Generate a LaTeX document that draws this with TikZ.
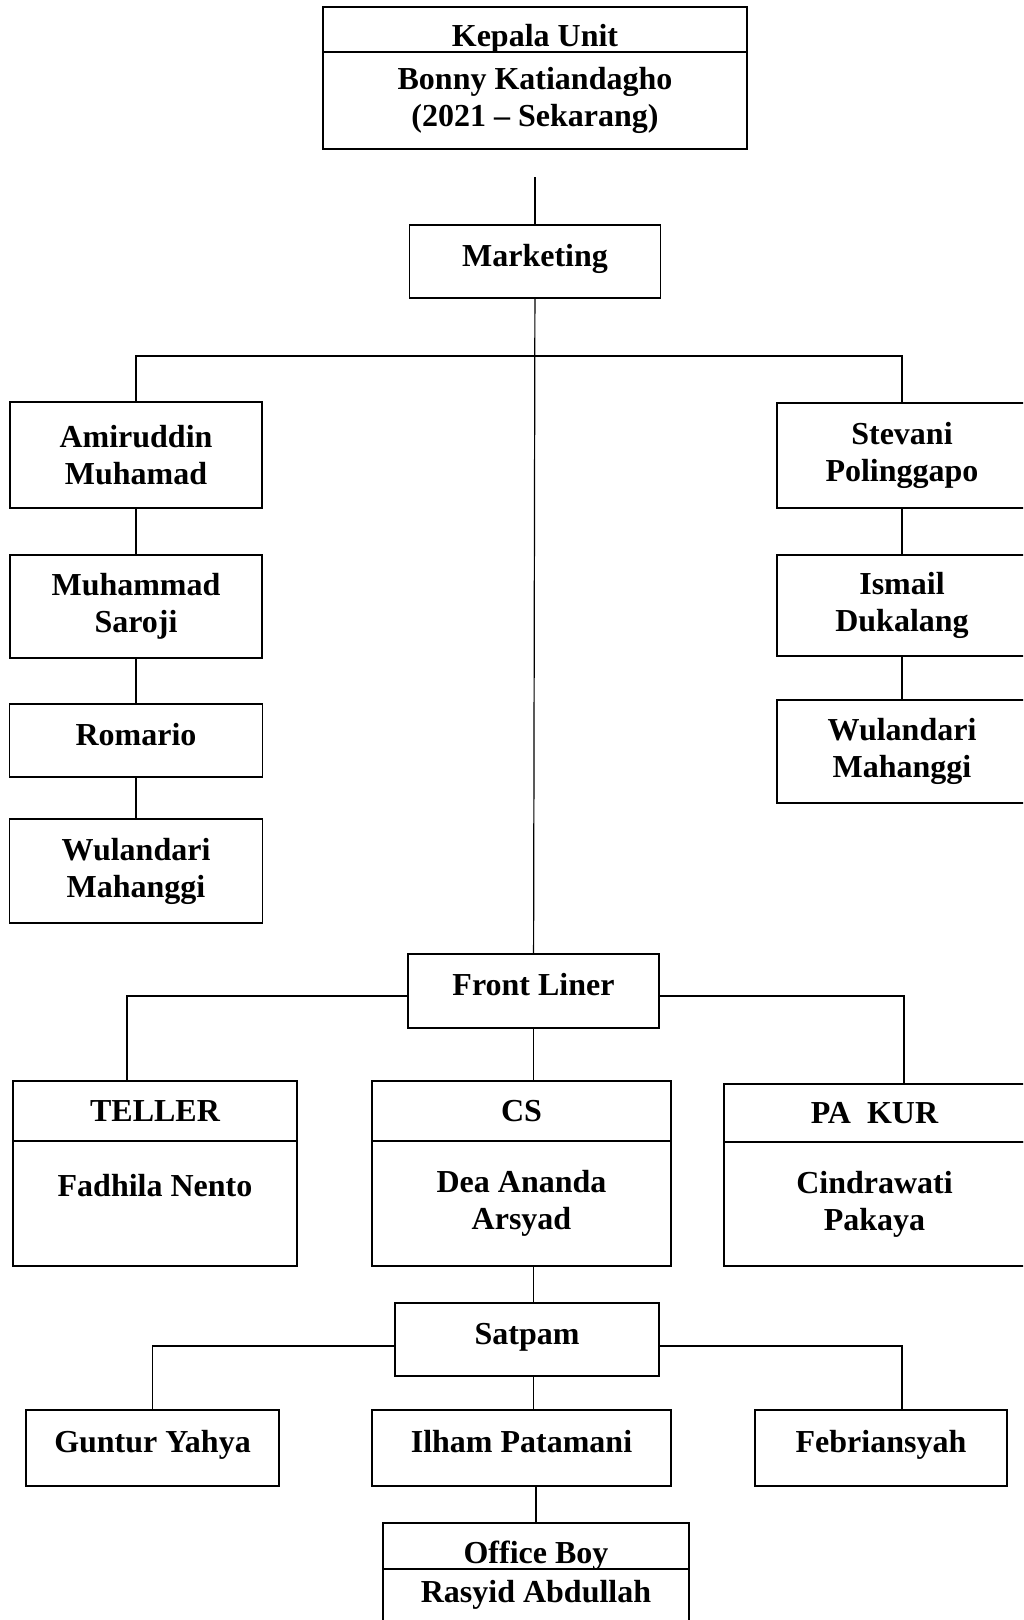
\documentclass[tikz,border=0pt]{standalone}
\usepackage{fontspec}
\setmainfont{Liberation Serif}
\usetikzlibrary{positioning}
\tikzstyle{box} = [draw, rectangle, line width=1.2pt, outer sep=0pt, inner sep=2pt, align=center, font=\fontsize{32}{37}\selectfont\bfseries]
\tikzstyle{oneline} = [text height=22pt, text depth=13pt]
\tikzstyle{line} = [draw, line width=1.2pt]

\begin{document}
\begin{tikzpicture}[x=1pt, y=1pt]

        \useasboundingbox (0,0) rectangle (1023,-1620);
        \clip (0,0) rectangle (1023,-1620);

        % kepala unit and marketing
        \node[box, minimum width=424pt, minimum height=45pt, text height=34pt, text depth=0pt] (kepalahead) at (535,-29.5) {Kepala Unit};
        \node[box, minimum width=424pt, minimum height=97pt, below=0pt of kepalahead] (kepalaname) {Bonny Katiandagho\\(2021 -- Sekarang)};
        \coordinate[below=28pt of kepalaname] (kgap);
        \node[box, oneline, minimum width=251pt, minimum height=73pt, below=76pt of kepalaname] (marketing) {Marketing};
        \coordinate[below=58pt of marketing] (mbar);

        % left branch
        \node[box, minimum width=252pt, minimum height=106pt] (amir) at (136,-455) {Amiruddin\\Muhamad};
        \node[box, minimum width=252pt, minimum height=103pt, below=47pt of amir] (saroji) {Muhammad\\Saroji};
        \node[box, oneline, minimum width=253pt, minimum height=73pt, below=46pt of saroji] (romario) {Romario};
        \node[box, minimum width=253pt, minimum height=104pt, below=42pt of romario] (wulanleft) {Wulandari\\Mahanggi};

        % right branch
        \node[box, minimum width=250pt, minimum height=105pt] (stevani) at (902,-455.5) {Stevani\\Polinggapo};
        \node[box, minimum width=250pt, minimum height=101pt, below=47pt of stevani] (ismail) {Ismail\\Dukalang};
        \node[box, minimum width=250pt, minimum height=103pt, below=44pt of ismail] (wulanright) {Wulandari\\Mahanggi};

        % front liner
        \node[box, oneline, minimum width=251pt, minimum height=74pt] (frontliner) at (533.5,-991) {Front Liner};
        \node[box, minimum width=284pt, minimum height=60pt] (tellerhead) at (155,-1111) {TELLER};
        \node[box, minimum width=284pt, minimum height=125pt, below=0pt of tellerhead] (tellername) {Fadhila Nento\\~};
        \node[box, minimum width=299pt, minimum height=60pt] (cshead) at (521.5,-1111) {CS};
        \node[box, minimum width=299pt, minimum height=125pt, below=0pt of cshead] (csname) {Dea Ananda\\Arsyad};
        \node[box, minimum width=301pt, minimum height=58pt] (pakurhead) at (874.5,-1113) {PA\ \ KUR};
        \node[box, minimum width=301pt, minimum height=124pt, below=0pt of pakurhead] (pakurname) {Cindrawati\\Pakaya};

        % satpam and office boy
        \node[box, oneline, minimum width=264pt, minimum height=73pt] (satpam) at (527,-1339.5) {Satpam};
        \node[box, oneline, minimum width=253pt, minimum height=76pt] (guntur) at (152.5,-1448) {Guntur Yahya};
        \node[box, oneline, minimum width=299pt, minimum height=76pt] (ilham) at (521.5,-1448) {Ilham Patamani};
        \node[box, oneline, minimum width=252pt, minimum height=76pt] (febri) at (881,-1448) {Febriansyah};
        \node[box, minimum width=306pt, minimum height=46pt, text height=35pt, text depth=0pt] (officehead) at (536,-1546) {Office Boy};
        \node[box, minimum width=306pt, minimum height=81pt, below=0pt of officehead] (officename) {Rasyid Abdullah\\~};


        \path [line] (kgap) -- (marketing);
        \path [line] (marketing) -- (frontliner);
        \path [line] (amir.north) |- (mbar) -| (stevani.north);
        \path [line] (amir) -- (saroji);
        \path [line] (saroji) -- (romario);
        \path [line] (romario) -- (wulanleft);
        \path [line] (stevani) -- (ismail);
        \path [line] (ismail) -- (wulanright);
        \path [line] ([yshift=-5pt]frontliner.west) -| ([xshift=-28pt]tellerhead.north);
        \path [line] ([yshift=-5pt]frontliner.east) -| ([xshift=29.5pt]pakurhead.north);
        \path [line] (frontliner.south) -- (frontliner.south |- cshead.north);
        \path [line] (csname.south -| frontliner.south) -- (satpam.north -| frontliner.south);
        \path [line] ([yshift=-6.5pt]satpam.west) -| (guntur.north);
        \path [line] ([yshift=-6.5pt]satpam.east) -| ([xshift=21pt]febri.north);
        \path [line] (satpam.south -| frontliner.south) -- (ilham.north -| frontliner.south);
        \path [line] (ilham.south -| officehead.north) -- (officehead.north);


\end{tikzpicture}
\end{document}
